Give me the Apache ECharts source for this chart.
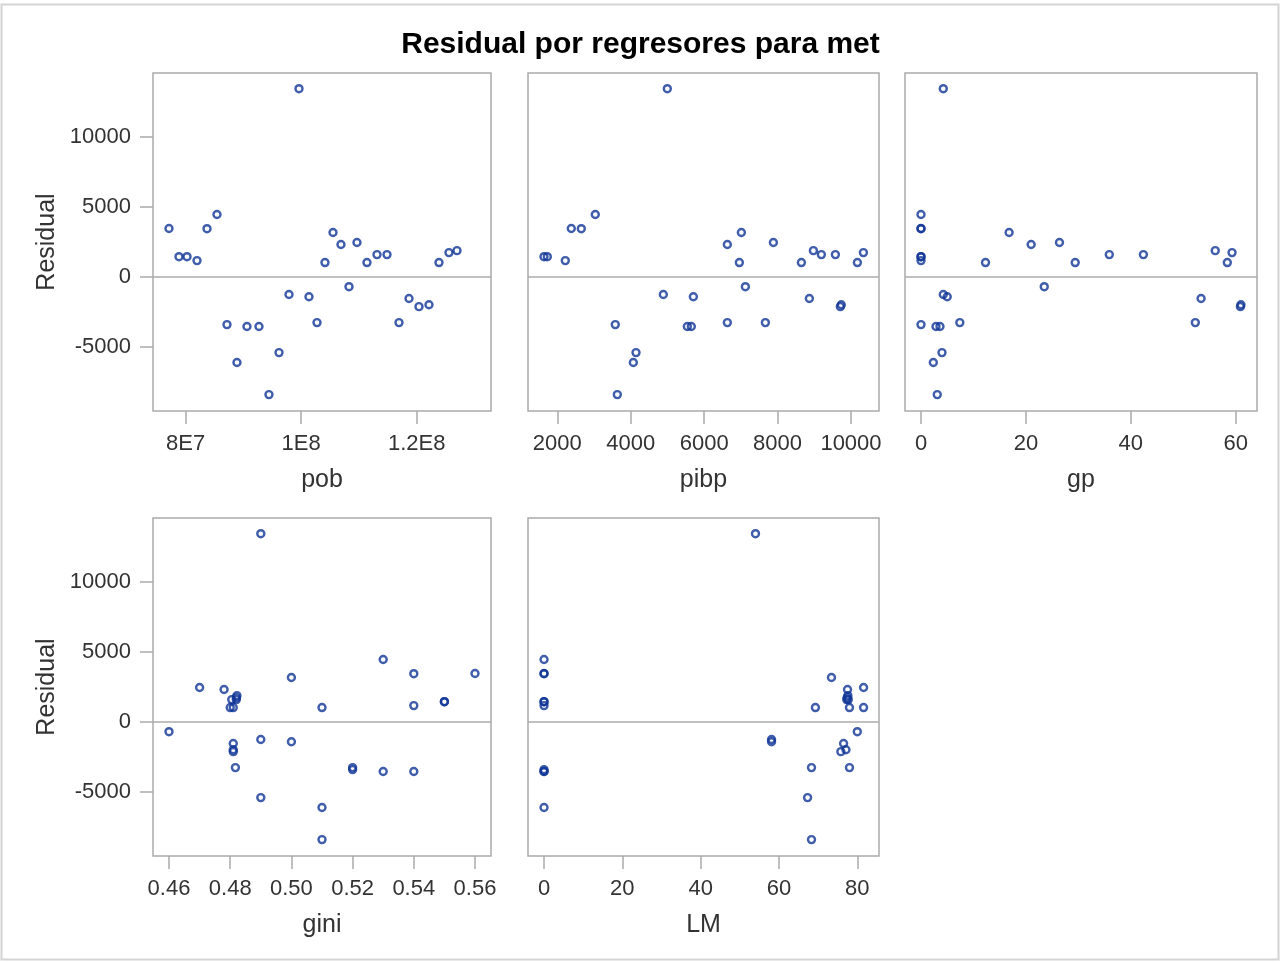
<!DOCTYPE html>
<html>
<head>
<meta charset="utf-8">
<title>Residual por regresores para met</title>
<script src="https://cdn.jsdelivr.net/npm/echarts@6/dist/echarts.min.js"></script>
<style>
  html, body { margin: 0; padding: 0; background: #fff; }
  #chart { width: 1281px; height: 962px; }
</style>
</head>
<body>
<div id="chart"></div>
<script>
// Residuals of the "met" model, one per yearly observation (in time order)
const residual = [3440, 1430, 1430, 1150, 3430, 4440, -3420, -6130, -3560, -3560,
  -8420, -5420, -1270, 13430, -1430, -3280, 1010, 3160, 2300, -714,
  2440, 1010, 1580, 1580, -3280, -1560, -2140, -2000, 1010, 1720, 1860];

// Regressors, same order as residual
const pob = [77.11e6, 78.84e6, 80.23e6, 81.96e6, 83.69e6, 85.42e6, 87.15e6, 88.88e6, 90.61e6, 92.69e6,
  94.42e6, 96.16e6, 97.89e6, 99.62e6, 101.35e6, 102.74e6, 104.12e6, 105.51e6, 106.89e6, 108.28e6,
  109.66e6, 111.39e6, 113.13e6, 114.86e6, 116.94e6, 118.67e6, 120.40e6, 122.13e6, 123.86e6, 125.59e6, 126.98e6];
const pibp = [2381, 1637, 1728, 2218, 2654, 3035, 3580, 4071, 5542, 5651,
  3635, 4144, 4888, 4997, 5706, 6632, 6959, 7014, 6632, 7123,
  7886, 8649, 9193, 9575, 7668, 8866, 9710, 9735, 10174, 10338, 8976];
const gp = [0, 0, 0, 0, 0, 0, 0, 2.35, 2.86, 3.62,
  3.1, 4.0, 4.25, 4.25, 5.0, 7.4, 12.3, 16.8, 21.0, 23.5,
  26.4, 29.4, 35.9, 42.4, 52.3, 53.4, 60.9, 61.0, 58.4, 59.3, 56.1];
const gini = [0.56, 0.55, 0.55, 0.54, 0.54, 0.53, 0.52, 0.51, 0.53, 0.54,
  0.51, 0.49, 0.49, 0.49, 0.50, 0.52, 0.51, 0.50, 0.478, 0.46,
  0.47, 0.480, 0.4805, 0.482, 0.4817, 0.481, 0.481, 0.481, 0.481, 0.482, 0.4822];
const LM = [0, 0, 0, 0, 0, 0, 0, 0, 0, 0,
  68.3, 67.3, 58.1, 54.0, 58.1, 68.3, 69.3, 73.4, 77.5, 80.0,
  81.6, 78.0, 77.3, 77.7, 78.0, 76.5, 75.8, 77.1, 81.6, 77.4, 77.6];

// Tick values
const residTicks = [-5000, 0, 5000, 10000];
const pobTicks = [8e7, 1e8, 1.2e8];
const pibpTicks = [2000, 4000, 6000, 8000, 10000];
const gpTicks = [0, 20, 40, 60];
const giniTicks = [0.46, 0.48, 0.50, 0.52, 0.54, 0.56];
const lmTicks = [0, 20, 40, 60, 80];

const FONT = '"Liberation Sans", Arial, sans-serif';
const FRAME = '#ababab';
const MARK = '#0f3596';
const TXT = '#333333';

const panels = [
  { name: 'pob',  x: pob,  ticks: pobTicks,  min: 74.34e6, max: 132.87e6, fmt: v => v.toExponential().replace('e+', 'E'),
    grid: { left: 153, top: 73, width: 338, height: 338 }, yLabels: true },
  { name: 'pibp', x: pibp, ticks: pibpTicks, min: 1202, max: 10763, fmt: v => String(v),
    grid: { left: 528, top: 73, width: 351, height: 338 }, yLabels: false },
  { name: 'gp',   x: gp,   ticks: gpTicks,   min: -3.05, max: 64.06, fmt: v => String(v),
    grid: { left: 905, top: 73, width: 352, height: 338 }, yLabels: false },
  { name: 'gini', x: gini, ticks: giniTicks, min: 0.45477, max: 0.56523, fmt: v => v.toFixed(2),
    grid: { left: 153, top: 518, width: 338, height: 338 }, yLabels: true },
  { name: 'LM',   x: LM,   ticks: lmTicks,   min: -4.09, max: 85.54, fmt: v => String(v),
    grid: { left: 528, top: 518, width: 351, height: 338 }, yLabels: false }
];

const grids = [], xAxes = [], yAxes = [], series = [];
panels.forEach((p, i) => {
  grids.push(Object.assign({ show: true, borderColor: FRAME, borderWidth: 1.5, backgroundColor: 'transparent' }, p.grid));
  xAxes.push({
    type: 'value', gridIndex: i, min: p.min, max: p.max, position: 'bottom',
    name: p.name, nameLocation: 'middle', nameGap: 57,
    nameTextStyle: { fontFamily: FONT, fontSize: 25, color: TXT },
    axisLine: { show: false, onZero: false },
    splitLine: { show: false },
    axisTick: { show: true, length: 13, customValues: p.ticks, lineStyle: { color: FRAME, width: 1.5 } },
    axisLabel: { show: true, customValues: p.ticks, margin: 22, formatter: p.fmt,
      fontFamily: FONT, fontSize: 22, color: TXT }
  });
  yAxes.push({
    type: 'value', gridIndex: i, min: -9593, max: 14550, position: 'left',
    name: p.yLabels ? 'Residual' : '', nameLocation: 'middle', nameGap: 93,
    nameTextStyle: { fontFamily: FONT, fontSize: 25, color: TXT },
    axisLine: { show: false, onZero: false },
    splitLine: { show: false },
    axisTick: { show: p.yLabels, length: 13, customValues: residTicks, lineStyle: { color: FRAME, width: 1.5 } },
    axisLabel: { show: p.yLabels, customValues: residTicks, margin: 22, formatter: v => String(v),
      fontFamily: FONT, fontSize: 22, color: TXT }
  });
  series.push({
    type: 'scatter', xAxisIndex: i, yAxisIndex: i,
    data: p.x.map((v, k) => [v, residual[k]]),
    symbol: 'circle', symbolSize: 7,
    itemStyle: { color: 'rgba(0,0,0,0)', borderColor: MARK, borderWidth: 2.4 },
    emphasis: { disabled: true },
    silent: true,
    markLine: {
      silent: true, symbol: 'none', animation: false,
      label: { show: false },
      lineStyle: { color: FRAME, type: 'solid', width: 1.5 },
      data: [{ yAxis: 0 }]
    }
  });
});

const chart = echarts.init(document.getElementById('chart'), null, { renderer: 'canvas' });
chart.setOption({
  backgroundColor: '#ffffff',
  animation: false,
  title: {
    text: 'Residual por regresores para met',
    left: 'center', top: 30, padding: 0,
    textStyle: { fontFamily: FONT, fontSize: 30, fontWeight: 'bold', color: '#000' }
  },
  graphic: [{
    type: 'rect', silent: true, z: -1,
    shape: { x: 1.5, y: 4.5, width: 1277, height: 955 },
    style: { fill: 'none', stroke: '#d4d4d4', lineWidth: 2 }
  }],
  grid: grids,
  xAxis: xAxes,
  yAxis: yAxes,
  series: series
});
</script>
</body>
</html>
